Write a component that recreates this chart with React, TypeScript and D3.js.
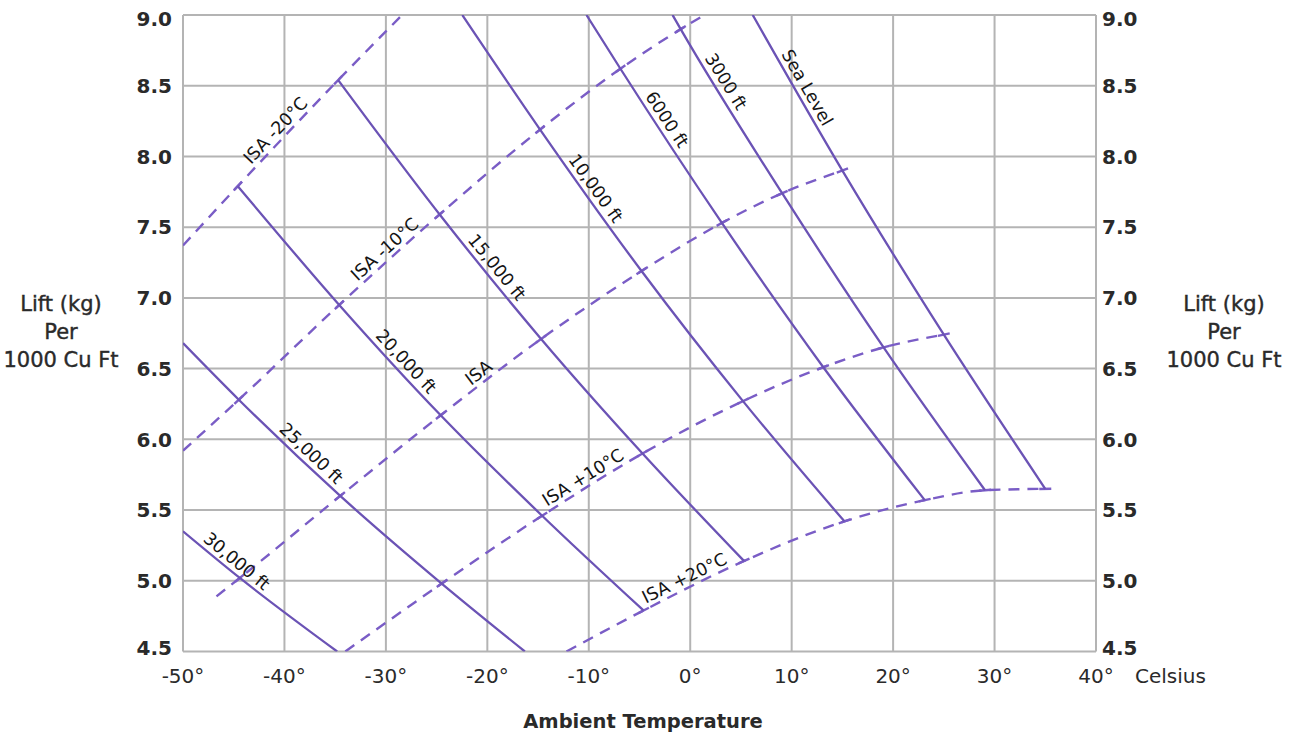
import React from "react";
import * as d3 from "d3";

const W = 1300;
const H = 738;

const xTicks = [-50, -40, -30, -20, -10, 0, 10, 20, 30, 40];
const yTicks = [4.5, 5.0, 5.5, 6.0, 6.5, 7.0, 7.5, 8.0, 8.5, 9.0];

const altitudeNames = ["Sea Level", "3000 ft", "6000 ft", "10,000 ft", "15,000 ft", "20,000 ft", "25,000 ft", "30,000 ft"];
const isaNames = ["ISA -20°C", "ISA -10°C", "ISA", "ISA +10°C", "ISA +20°C"];

// temperature (°C) where each altitude line meets each ISA curve (rows: altitude, cols: ISA offset)
const crossTemp: (number | null)[][] = [
  [null, null, 15, 25, 35],
  [null, -0.94, 9.06, 19.06, 29.06],
  [null, -6.88, 3.12, 13.12, 23.12],
  [null, -14.8, -4.8, 5.2, 15.2],
  [-34.7, -24.7, -14.7, -4.7, 5.3],
  [-44.6, -34.6, -24.6, -14.6, -4.6],
  [null, -44.5, -34.5, -24.5, null],
  [null, null, -44.4, null, null],
];
// lift (kg per 1000 cu ft) at those crossings
const crossLift: (number | null)[][] = [
  [null, null, 7.9, 6.74, 5.65],
  [null, 8.9, 7.74, 6.65, 5.64],
  [null, 8.62, 7.53, 6.51, 5.57],
  [null, 8.19, 7.19, 6.27, 5.42],
  [8.54, 7.59, 6.71, 5.9, 5.14],
  [7.79, 6.95, 6.17, 5.46, 4.79],
  [null, 6.28, 5.6, 4.98, null],
  [null, null, 5.02, null, null],
];

// extra end points of the altitude lines where they leave the frame
const altStart: ([number, number] | null)[] = [[6.16, 9.0], [-1.74, 9.0], [-10.23, 9.0], [-22.47, 9.0], null, null, [-50, 6.68], [-50, 5.35]];
const altEnd: ([number, number] | null)[] = [null, null, null, null, null, null, [-16.3, 4.5], [-34.8, 4.5]];
// extra end points of the ISA curves
const isaStart: ([number, number] | null)[] = [[-50, 7.37], [-50, 5.92], [-46.7, 4.89], [-34.0, 4.5], [-12.2, 4.5]];
const isaEnd: ([number, number] | null)[] = [[-28.4, 9.0], [1.4, 9.0], null, null, null];

// temperature along each line where its label sits
const altLabelT = [10.6, 2.6, -3.2, -10.2, -19.9, -28.8, -38.1, -45.4];
const isaLabelT = [-40.1, -29.4, -20.2, -10.0, -0.1];

type P = [number, number];

const SOLID = "#6b53b5";
const DASH = "#7a5dc6";
const GRID = "#b4b4b4";
const FONT = "'DejaVu Sans', Verdana, sans-serif";

export default function App() {
  const x = d3.scaleLinear().domain([-50, 40]).range([183, 1096]);
  const y = d3.scaleLinear().domain([4.5, 9]).range([651.5, 15]);

  const altLines: P[][] = altitudeNames.map((_, i) => {
    const pts: P[] = [];
    if (altStart[i]) pts.push(altStart[i] as P);
    crossTemp[i].forEach((t, j) => {
      if (t !== null) pts.push([t, crossLift[i][j] as number]);
    });
    if (altEnd[i]) pts.push(altEnd[i] as P);
    return pts.sort((a, b) => a[0] - b[0]);
  });

  const isaLines: P[][] = isaNames.map((_, j) => {
    const pts: P[] = [];
    if (isaStart[j]) pts.push(isaStart[j] as P);
    crossTemp.forEach((row, i) => {
      if (row[j] !== null) pts.push([row[j] as number, crossLift[i][j] as number]);
    });
    if (isaEnd[j]) pts.push(isaEnd[j] as P);
    return pts.sort((a, b) => a[0] - b[0]);
  });

  const line = d3
    .line<P>()
    .x((d) => x(d[0]))
    .y((d) => y(d[1]))
    .curve(d3.curveMonotoneX);

  const placeOn = (pts: P[], t: number) => {
    let k = 0;
    while (k < pts.length - 2 && t > pts[k + 1][0]) k++;
    const [t0, l0] = pts[k];
    const [t1, l1] = pts[k + 1];
    const f = (t - t0) / (t1 - t0);
    const L = l0 + f * (l1 - l0);
    const ang = (Math.atan2(y(l1) - y(l0), x(t1) - x(t0)) * 180) / Math.PI;
    return { px: x(t), py: y(L), ang };
  };

  // ticks along ISA curves at each crossing
  const ticks: { x1: number; y1: number; x2: number; y2: number }[] = [];
  crossTemp.forEach((row, i) => {
    row.forEach((t, j) => {
      if (t === null) return;
      const pts = isaLines[j];
      const k = pts.findIndex((p) => p[0] === t);
      const a = pts[Math.max(0, k - 1)];
      const b = pts[Math.min(pts.length - 1, k + 1)];
      const dx = x(b[0]) - x(a[0]);
      const dy = y(b[1]) - y(a[1]);
      const len = Math.hypot(dx, dy) || 1;
      const ux = dx / len;
      const uy = dy / len;
      const cx = x(t);
      const cy = y(crossLift[i][j] as number);
      const h = 6;
      ticks.push({ x1: cx - ux * h, y1: cy - uy * h, x2: cx + ux * h, y2: cy + uy * h });
    });
  });

  const [x0, x1] = x.range();
  const [yb, yt] = y.range();

  return (
    <svg
      width={W}
      height={H}
      style={{ position: "absolute", left: 0, top: 0, background: "#fff", display: "block" }}
      fontFamily={FONT}
    >
      <defs>
        <clipPath id="plot">
          <rect x={x0} y={yt} width={x1 - x0} height={yb - yt} />
        </clipPath>
      </defs>

      {/* grid */}
      <g stroke={GRID} strokeWidth={2}>
        {xTicks.map((t) => (
          <line key={"gx" + t} x1={x(t)} x2={x(t)} y1={yt} y2={yb} />
        ))}
        {yTicks.map((v) => (
          <line key={"gy" + v} x1={x0} x2={x1} y1={y(v)} y2={y(v)} />
        ))}
      </g>

      <g clipPath="url(#plot)">
        {/* ISA dashed curves */}
        {isaLines.map((pts, j) => (
          <path key={"isa" + j} d={line(pts) || ""} fill="none" stroke={DASH} strokeWidth={2.4} strokeDasharray="11 8" />
        ))}
        {/* ticks */}
        {ticks.map((tk, k) => (
          <line key={"tk" + k} {...tk} stroke={DASH} strokeWidth={2.4} />
        ))}
        {/* altitude lines */}
        {altLines.map((pts, i) => (
          <path key={"alt" + i} d={line(pts) || ""} fill="none" stroke={SOLID} strokeWidth={2.3} />
        ))}
      </g>

      {/* line labels */}
      <g fontSize={17.5} fill="#141414" textAnchor="middle">
        {altitudeNames.map((name, i) => {
          const { px, py, ang } = placeOn(altLines[i], altLabelT[i]);
          return (
            <text key={"al" + i} transform={`translate(${px},${py}) rotate(${ang})`} y={-5}>
              {name}
            </text>
          );
        })}
        {isaNames.map((name, j) => {
          const { px, py, ang } = placeOn(isaLines[j], isaLabelT[j]);
          return (
            <text key={"il" + j} transform={`translate(${px},${py}) rotate(${ang})`} y={-5}>
              {name}
            </text>
          );
        })}
      </g>

      {/* y tick labels */}
      <g fontSize={20} fontWeight="bold" fill="#2a2a2a">
        {yTicks.map((v) => {
          const yy = Math.min(Math.max(y(v), 19), 648);
          return (
            <React.Fragment key={"yl" + v}>
              <text x={172} y={yy} dy="0.36em" textAnchor="end">
                {v.toFixed(1)}
              </text>
              <text x={1102} y={yy} dy="0.36em" textAnchor="start">
                {v.toFixed(1)}
              </text>
            </React.Fragment>
          );
        })}
      </g>

      {/* x tick labels */}
      <g fontSize={20} fill="#2a2a2a" textAnchor="middle">
        {xTicks.map((t) => (
          <text key={"xl" + t} x={x(t)} y={683}>
            {`${t}°`}
          </text>
        ))}
        <text x={1135} y={683} textAnchor="start">
          Celsius
        </text>
      </g>

      <text x={643} y={728} fontSize={19.5} fontWeight="bold" fill="#2a2a2a" textAnchor="middle">
        Ambient Temperature
      </text>

      {/* side axis titles */}
      {[61, 1224].map((cx) => (
        <g key={"lt" + cx} fontSize={21} fill="#2a2a2a" textAnchor="middle" stroke="#2a2a2a" strokeWidth={0.4}>
          <text x={cx} y={311}>Lift (kg)</text>
          <text x={cx} y={339}>Per</text>
          <text x={cx} y={367}>1000 Cu Ft</text>
        </g>
      ))}
    </svg>
  );
}
